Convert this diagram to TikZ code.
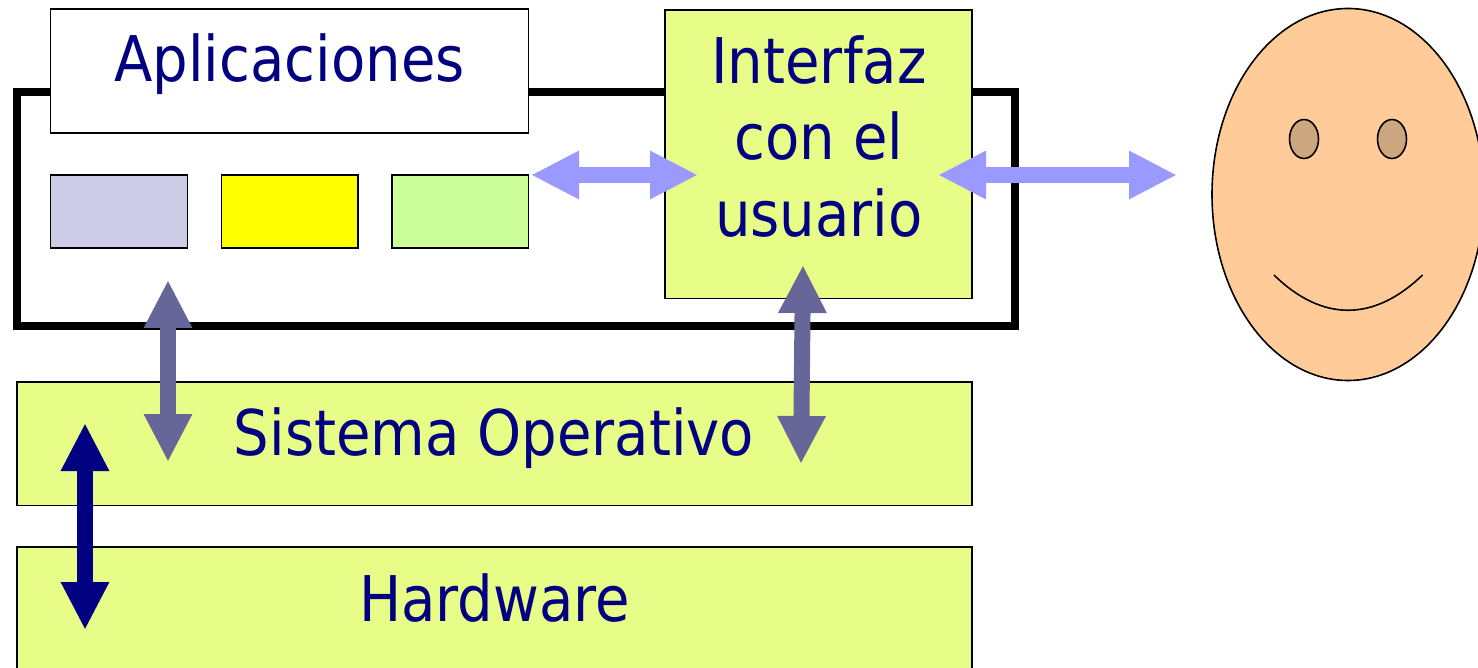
\documentclass[tikz,border=0pt]{standalone}
\usepackage{fontspec}
\setmainfont[FakeStretch=0.89]{DejaVu Sans}
\usetikzlibrary{arrows.meta,shapes.geometric}
\definecolor{navy1}{HTML}{000080}
\definecolor{lime1}{HTML}{E8FC88}
\definecolor{lav}{HTML}{CCCCE6}
\definecolor{grn}{HTML}{CCFF99}
\definecolor{yel}{RGB}{255,255,0}
\definecolor{arrL}{HTML}{9999FF}
\definecolor{arrM}{HTML}{666699}
\definecolor{skin}{HTML}{FFCC99}
\definecolor{eye}{HTML}{CCA67F}
\tikzset{x=1pt,y=-1pt,
 box/.style={draw=black,line width=1.6pt,anchor=north west,inner sep=0pt,outer sep=0pt},
 lab/.style={text=navy1,font=\fontsize{63}{74}\selectfont,align=center,inner sep=0pt,anchor=base},
 dbl/.style={line width=16pt,{Triangle[length=48pt,width=45pt,sep=0pt]}-{Triangle[length=48pt,width=45pt,sep=0pt]}},
 eyeshape/.style={draw=black,fill=eye,line width=1.6pt,ellipse,minimum width=29pt,minimum height=39pt,inner sep=0pt,outer sep=0pt},
}
\begin{document}
\begin{tikzpicture}
\useasboundingbox (0,0) rectangle (1478,668);
\node[draw=black,line width=8pt,anchor=north west,minimum width=998.5pt,minimum height=233.5pt,inner sep=0pt,outer sep=0pt] (frame) at (16.7,92.5) {};
\node[box,fill=white,minimum width=478pt,minimum height=124pt] (apps) at (50.5,9) {};
\node[lab] (appsl) at (289.5,82) {Aplicaciones};
\node[box,fill=lav,minimum width=137pt,minimum height=73pt] (b1) at (50.5,175) {};
\node[box,fill=yel,minimum width=136.5pt,minimum height=73pt] (b2) at (221.5,175) {};
\node[box,fill=grn,minimum width=136.5pt,minimum height=73pt] (b3) at (392,175) {};
\node[box,fill=lime1,minimum width=307pt,minimum height=288.5pt] (ui) at (665,10) {};
\node[lab] (uil1) at (819,84) {Interfaz};
\node[lab] (uil2) at (819,160) {con el};
\node[lab] (uil3) at (819,237) {usuario};
\node[box,fill=lime1,minimum width=955pt,minimum height=123.5pt] (so) at (17,382) {};
\node[lab] (sol) at (494,455) {Sistema Operativo};
\node[box,fill=lime1,minimum width=955pt,minimum height=130pt] (hw) at (17,547) {};
\node[lab] (hwl) at (494.5,621) {Hardware};
\coordinate (a1) at (531,175); \coordinate (a2) at (698,175);
\draw[dbl,arrL] (a1) -- (a2);
\coordinate (c1) at (938,175); \coordinate (c2) at (1177,175);
\draw[dbl,arrL] (c1) -- (c2);
\coordinate (d1) at (168,280); \coordinate (d2) at (168,462);
\draw[dbl,arrM] (d1) -- (d2);
\coordinate (e1) at (803,265); \coordinate (e2) at (801,464);
\draw[dbl,arrM] (e1) -- (e2);
\coordinate (f1) at (85,423); \coordinate (f2) at (85,630);
\draw[dbl,navy1] (f1) -- (f2);
\node[draw=black,fill=skin,line width=1.6pt,ellipse,minimum width=272pt,minimum height=372pt,inner sep=0pt,outer sep=0pt] (face) at (1348,194.5) {};
\node[eyeshape] (eyeL) at (1304,139) {};
\node[eyeshape] (eyeR) at (1392,139) {};
\coordinate (s1) at (1274,275); \coordinate (s2) at (1422.5,275);
\draw[line width=1.6pt] (s1) .. controls (1322,322) and (1374,322) .. (s2);
\end{tikzpicture}
\end{document}
